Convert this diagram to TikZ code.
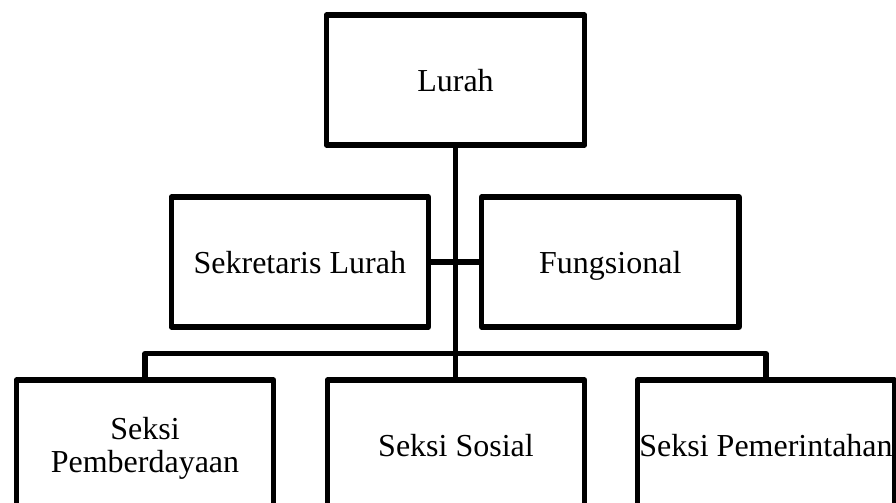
\documentclass[tikz,border=0pt]{standalone}
\usepackage{fontspec}
\setmainfont{Liberation Serif}
\usetikzlibrary{positioning}

\begin{document}
\begin{tikzpicture}[x=0.75pt, y=-0.75pt,
    unit/.style={draw, line width=3.8pt, line join=round, minimum width=193pt,
      minimum height=97.5pt, inner sep=0pt, align=center, text depth=0pt,
      font=\fontsize{24}{25}\selectfont},
    link/.style={line width=3.8pt, line join=round}]
      \useasboundingbox (0,0) rectangle (896,503);
      % Top
      \node[unit, minimum width=194pt] (lurah) at (455.5,80) {Lurah};
      % Staff row
      \node[unit] (sekretaris) at (299.8,262) {Sekretaris Lurah};
      \node[unit] (fungsional) at (610.3,262) {Fungsional};
      % Sections
      \node[unit] (pemberdayaan) at (145,445) {Seksi\\Pemberdayaan};
      \node[unit] (sosial) at (456,445) {Seksi Sosial};
      \node[unit] (pemerintahan) at (766,445) {Seksi Pemerintahan};
      \coordinate (bus) at (455,353.5);
      % Lines
      \draw[link] (lurah.south) -- (lurah.south |- sosial.north);
      \draw[link] (sekretaris.east) -- (fungsional.west);
      \draw[link] (pemberdayaan.north) |- (bus) -| (pemerintahan.north);
\end{tikzpicture}
\end{document}
